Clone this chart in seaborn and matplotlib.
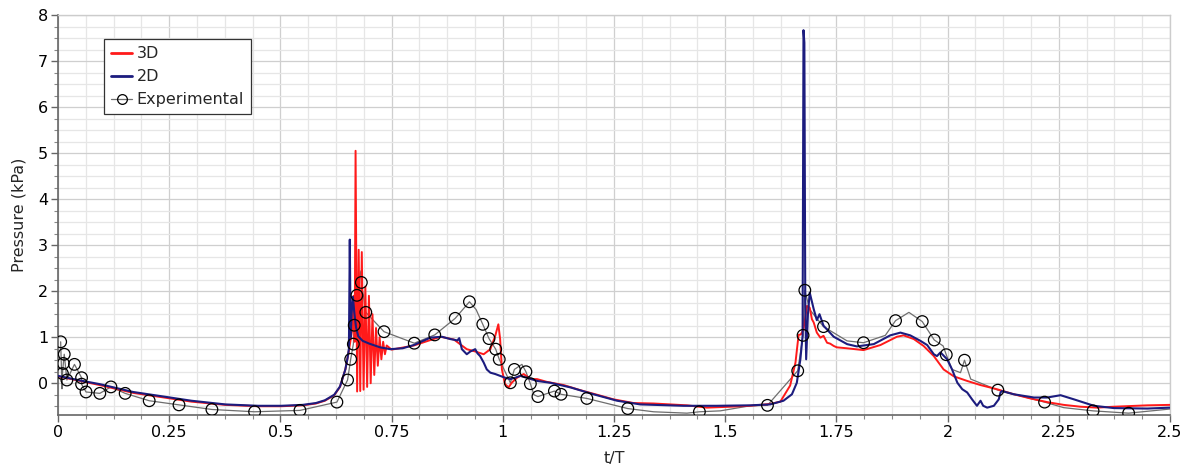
import numpy as np
import pandas as pd
import matplotlib
matplotlib.use("Agg")
import matplotlib.pyplot as plt
from matplotlib.lines import Line2D
from matplotlib.ticker import MultipleLocator
import seaborn as sns

# ---------------- data ----------------
x_tick_values = [0, 0.25, 0.5, 0.75, 1, 1.25, 1.5, 1.75, 2, 2.25, 2.5]
x_tick_labels = ["0", "0.25", "0.5", "0.75", "1", "1.25", "1.5", "1.75", "2", "2.25", "2.5"]
y_tick_values = [0, 1, 2, 3, 4, 5, 6, 7, 8]
series_names = ["3D", "2D", "Experimental"]

# 2D simulation
t2 = [0.0, 0.05, 0.094, 0.169, 0.252, 0.30, 0.376, 0.45, 0.502, 0.55,
      0.58, 0.60, 0.621, 0.634, 0.646, 0.651, 0.654, 0.656, 0.658, 0.660,
      0.663, 0.666, 0.670, 0.675, 0.685, 0.700, 0.724, 0.747, 0.775, 0.80,
      0.837, 0.863, 0.882, 0.898, 0.902, 0.908, 0.919, 0.927, 0.938, 0.943,
      0.949, 0.957, 0.964, 0.972, 0.983, 0.994, 1.005, 1.017, 1.028, 1.039,
      1.054, 1.077, 1.107, 1.152, 1.204, 1.257, 1.309, 1.406, 1.48, 1.556,
      1.601, 1.631, 1.650, 1.661, 1.669, 1.674, 1.676, 1.678, 1.680, 1.682,
      1.686, 1.690, 1.699, 1.706, 1.712, 1.721, 1.744, 1.774, 1.796, 1.834,
      1.871, 1.894, 1.916, 1.939, 1.954, 1.969, 1.976, 1.984, 1.999, 2.010,
      2.022, 2.033, 2.044, 2.055, 2.066, 2.074, 2.080, 2.089, 2.104, 2.115,
      2.119, 2.122, 2.149, 2.194, 2.224, 2.254, 2.284, 2.329, 2.374, 2.449,
      2.5]
p2 = [0.16, 0.06, -0.02, -0.19, -0.31, -0.38, -0.46, -0.49, -0.49, -0.47,
      -0.43, -0.37, -0.25, -0.07, 0.30, 0.55, 0.75, 3.12, 1.0, 1.5,
      1.88, 1.55, 1.22, 1.02, 0.92, 0.86, 0.78, 0.74, 0.76, 0.83,
      0.99, 1.01, 0.96, 0.93, 0.98, 0.74, 0.63, 0.69, 0.74, 0.65,
      0.59, 0.45, 0.30, 0.23, 0.20, 0.16, 0.12, 0.09, 0.12, 0.16,
      0.12, 0.05, 0.01, -0.09, -0.24, -0.38, -0.46, -0.49, -0.49, -0.48,
      -0.46, -0.38, -0.24, 0.01, 0.52, 1.03, 7.67, 7.4, 1.8, 0.52,
      1.5, 1.97, 1.61, 1.37, 1.50, 1.25, 1.01, 0.85, 0.80, 0.85,
      1.04, 1.10, 1.04, 0.92, 0.83, 0.63, 0.59, 0.67, 0.52, 0.30,
      0.01, -0.13, -0.20, -0.35, -0.49, -0.38, -0.49, -0.53, -0.49, -0.35,
      -0.20, -0.17, -0.24, -0.31, -0.31, -0.26, -0.35, -0.49, -0.54, -0.55,
      -0.53]

# 3D simulation
t3 = [0.0, 0.05, 0.094, 0.169, 0.252, 0.30, 0.376, 0.45, 0.502, 0.55,
      0.58, 0.60, 0.621, 0.634, 0.646, 0.653, 0.658, 0.662, 0.665, 0.667,
      0.669, 0.6725, 0.676, 0.6795, 0.683, 0.687, 0.691, 0.695, 0.699, 0.703,
      0.707, 0.711, 0.715, 0.719, 0.723, 0.727, 0.731, 0.735, 0.739, 0.750,
      0.80, 0.86, 0.89, 0.919, 0.938, 0.957, 0.972, 0.983, 0.990,
      0.994, 0.998, 1.005, 1.013, 1.020, 1.032, 1.047, 1.062, 1.077, 1.099,
      1.137, 1.174, 1.212, 1.249, 1.294, 1.339, 1.414, 1.459, 1.512, 1.556,
      1.601, 1.624, 1.646, 1.658, 1.665, 1.670, 1.676, 1.684, 1.690, 1.695,
      1.699, 1.706, 1.714, 1.721, 1.729, 1.736, 1.744, 1.751, 1.773, 1.811,
      1.849, 1.886, 1.901, 1.924, 1.946, 1.969, 1.991, 2.014, 2.044, 2.074,
      2.111, 2.149, 2.186, 2.224, 2.261, 2.299, 2.336, 2.374, 2.449, 2.5]
p3 = [0.15, 0.05, -0.04, -0.21, -0.33, -0.40, -0.47, -0.50, -0.50, -0.48,
      -0.44, -0.38, -0.26, -0.08, 0.30, 0.65, 0.95, 1.2, 1.9, 0.9,
      5.05, -0.18, 2.9, -0.17, 2.85, -0.14, 2.1, -0.08, 1.9, 0.0,
      1.5, 0.18, 1.2, 0.38, 1.0, 0.52, 0.9, 0.63, 0.82, 0.73,
      0.82, 1.01, 0.95, 0.74, 0.69, 0.63, 0.74, 1.03, 1.28,
      0.96, 0.30, -0.02, -0.09, 0.01, 0.12, 0.20, 0.09, 0.09, 0.03,
      -0.04, -0.15, -0.25, -0.35, -0.43, -0.44, -0.48, -0.53, -0.51, -0.49,
      -0.45, -0.40, -0.05, 0.45, 1.05, 1.06, 1.17, 1.68, 1.64, 1.39,
      1.32, 1.10, 0.99, 1.03, 0.88, 0.86, 0.81, 0.78, 0.76, 0.72,
      0.83, 1.01, 1.04, 0.96, 0.81, 0.59, 0.30, 0.15, 0.05, -0.04,
      -0.13, -0.24, -0.33, -0.41, -0.47, -0.51, -0.53, -0.51, -0.48, -0.47]

# Experimental: thin connecting line (all vertices) and circle markers
exp_line_t = [0.006, 0.009, 0.010, 0.012, 0.014, 0.020, 0.037, 0.053, 0.053, 0.063,
              0.094, 0.119, 0.151, 0.205, 0.272, 0.346, 0.442, 0.544, 0.627, 0.651,
              0.658, 0.664, 0.666, 0.672, 0.681, 0.682, 0.692, 0.733, 0.801, 0.847,
              0.893, 0.925, 0.940, 0.955, 0.969, 0.984, 0.992, 1.017, 1.026, 1.043,
              1.052, 1.062, 1.070, 1.079, 1.116, 1.131, 1.189, 1.281, 1.339, 1.414,
              1.442, 1.489, 1.556, 1.595, 1.663, 1.675, 1.679, 1.690, 1.721, 1.774,
              1.811, 1.860, 1.883, 1.913, 1.943, 1.970, 1.990, 1.997, 2.010, 2.029,
              2.038, 2.052, 2.113, 2.218, 2.261, 2.327, 2.407, 2.5]
exp_line_p = [0.90, -0.12, 0.21, 0.43, 0.63, 0.07, 0.41, 0.12, -0.02, -0.19,
              -0.22, -0.08, -0.22, -0.38, -0.47, -0.57, -0.62, -0.59, -0.41, 0.07,
              0.52, 0.85, 1.26, 1.91, 2.44, 2.19, 1.54, 1.12, 0.87, 1.05,
              1.41, 1.77, 1.60, 1.28, 0.97, 0.74, 0.52, 0.01, 0.30, 0.41,
              0.25, -0.01, -0.25, -0.29, -0.17, -0.24, -0.33, -0.55, -0.62, -0.65,
              -0.62, -0.60, -0.49, -0.48, 0.27, 1.04, 2.02, 1.60, 1.23, 0.92,
              0.88, 1.04, 1.36, 1.54, 1.34, 0.94, 0.81, 0.62, 0.30, 0.23,
              0.50, 0.09, -0.15, -0.41, -0.53, -0.60, -0.65, -0.56]
exp_mark_t = [0.006, 0.010, 0.012, 0.014, 0.020, 0.037, 0.053, 0.053, 0.063, 0.094,
              0.119, 0.151, 0.205, 0.272, 0.346, 0.442, 0.544, 0.627, 0.651, 0.658,
              0.664, 0.666, 0.672, 0.682, 0.692, 0.733, 0.801, 0.847, 0.893, 0.925,
              0.955, 0.969, 0.984, 0.992, 1.017, 1.026, 1.052, 1.062, 1.079, 1.116,
              1.131, 1.189, 1.281, 1.442, 1.595, 1.663, 1.675, 1.679, 1.721, 1.811,
              1.883, 1.943, 1.970, 1.997, 2.038, 2.113, 2.218, 2.327, 2.407]
exp_mark_p = [0.90, 0.21, 0.43, 0.63, 0.07, 0.41, 0.12, -0.02, -0.19, -0.22,
              -0.08, -0.22, -0.38, -0.47, -0.57, -0.62, -0.59, -0.41, 0.07, 0.52,
              0.85, 1.26, 1.91, 2.19, 1.54, 1.12, 0.87, 1.05, 1.41, 1.77,
              1.28, 0.97, 0.74, 0.52, 0.01, 0.30, 0.25, -0.01, -0.29, -0.17,
              -0.24, -0.33, -0.55, -0.62, -0.48, 0.27, 1.04, 2.02, 1.23, 0.88,
              1.36, 1.34, 0.94, 0.62, 0.50, -0.15, -0.41, -0.60, -0.65]

# ---------------- style ----------------
RED = "#ff1a1a"
NAVY = "#1c1c7e"
GRAY = "#6e6e6e"

sns.set_theme(style="white")
plt.rcParams["font.family"] = ["DejaVu Sans"]

fig = plt.figure(figsize=(11.95, 4.74), dpi=100)
ax = fig.add_axes([58 / 1195, 1 - 415 / 474, (1170 - 58) / 1195, (415 - 15) / 474])

df2 = pd.DataFrame({"t": t2, "p": p2})
df3 = pd.DataFrame({"t": t3, "p": p3})
dfl = pd.DataFrame({"t": exp_line_t, "p": exp_line_p})
dfm = pd.DataFrame({"t": exp_mark_t, "p": exp_mark_p})

sns.lineplot(data=dfl, x="t", y="p", sort=False, estimator=None, color=GRAY,
             linewidth=0.9, ax=ax, zorder=3)
sns.lineplot(data=df3, x="t", y="p", sort=False, estimator=None, color=RED,
             linewidth=1.4, ax=ax, zorder=4)
sns.lineplot(data=df2, x="t", y="p", sort=False, estimator=None, color=NAVY,
             linewidth=1.5, ax=ax, zorder=5)
sns.scatterplot(data=dfm, x="t", y="p", marker="o", s=70, edgecolor="black",
                linewidth=0.9, ax=ax, zorder=6)
ax.collections[-1].set_facecolor("none")

ax.set_xlim(0, 2.5)
ax.set_ylim(-0.69, 8)
ax.set_xticks(x_tick_values)
ax.set_xticklabels(x_tick_labels)
ax.set_yticks(y_tick_values)
ax.xaxis.set_minor_locator(MultipleLocator(0.0625))
ax.yaxis.set_minor_locator(MultipleLocator(0.25))

ax.grid(True, which="major", color="#cfcfcf", linewidth=0.9, zorder=0)
ax.grid(True, which="minor", color="#e6e6e6", linewidth=0.9, zorder=0)
ax.set_axisbelow(True)

for side in ["top", "right"]:
    ax.spines[side].set_color("#cccccc")
    ax.spines[side].set_linewidth(1.0)
for side in ["left", "bottom"]:
    ax.spines[side].set_color("#666666")
    ax.spines[side].set_linewidth(1.2)

ax.tick_params(which="major", direction="out", length=5, width=1, color="#666666",
               labelsize=11.5, labelcolor="black", left=True, bottom=True, pad=2)
ax.tick_params(which="minor", direction="out", length=3, width=0.8, color="#888888",
               left=True, bottom=True)

ax.set_xlabel("t/T", fontsize=11.5, labelpad=8)
ax.set_ylabel("Pressure (kPa)", fontsize=11.5, labelpad=8)

handles = [
    Line2D([], [], color=RED, lw=2),
    Line2D([], [], color=NAVY, lw=2),
    Line2D([], [], color=GRAY, lw=0.9, marker="o", mfc="none", mec="black",
           ms=7, mew=0.9),
]
leg = ax.legend(handles, series_names, loc="upper left",
                bbox_to_anchor=(0.0414, 0.94), fontsize=11.5, frameon=True,
                fancybox=False, framealpha=1, edgecolor="#333333",
                handlelength=1.3, handletextpad=0.3, labelspacing=0.5,
                borderpad=0.45, borderaxespad=0)
leg.get_frame().set_linewidth(0.9)

fig.savefig("out.png", dpi=100)
